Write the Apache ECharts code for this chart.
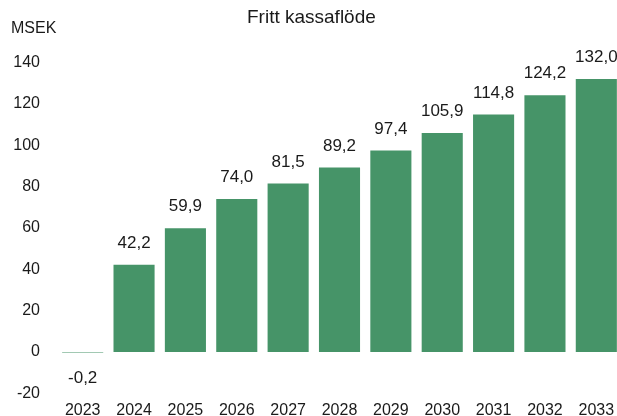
<!DOCTYPE html>
<html>
<head>
<meta charset="utf-8">
<script src="https://cdn.jsdelivr.net/npm/echarts@6/dist/echarts.min.js"></script>
<style>
  html, body { margin: 0; padding: 0; background: #fff; }
  #chart { width: 617px; height: 416px; }
</style>
</head>
<body>
<div id="chart"></div>
<script>
// Fritt kassaflöde, MSEK
var years = ['2023', '2024', '2025', '2026', '2027', '2028', '2029', '2030', '2031', '2032', '2033']
var cashflow = [-0.2, 42.2, 59.9, 74.0, 81.5, 89.2, 97.4, 105.9, 114.8, 124.2, 132.0]
var yTicks = { min: -20, max: 140, step: 20 }

var font = 'Liberation Sans, Arial, sans-serif'
var barColor = '#469468'

function fmt(v) {
  return v.toFixed(1).replace('.', ',')
}

var myChart = echarts.init(document.getElementById('chart'))
var option = {
  backgroundColor: '#fff',
  animation: false,
  title: {
    text: 'Fritt kassaflöde',
    left: 247,
    top: 8,
    padding: 0,
    textStyle: { fontFamily: font, fontSize: 19, fontWeight: 'normal', color: '#1a1a1a' }
  },
  grid: { left: 57, right: -5, top: 62.5, bottom: 22.6, containLabel: false, outerBoundsMode: 'none' },
  xAxis: {
    type: 'category',
    data: years,
    axisLine: { show: false },
    axisTick: { show: false },
    axisLabel: {
      margin: 9,
      fontFamily: font,
      fontSize: 16,
      color: '#1a1a1a',
      verticalAlign: 'top'
    }
  },
  yAxis: {
    type: 'value',
    min: yTicks.min,
    max: yTicks.max,
    interval: yTicks.step,
    name: 'MSEK',
    nameLocation: 'end',
    nameGap: 34,
    nameTextStyle: {
      fontFamily: font,
      fontSize: 16,
      color: '#1a1a1a',
      align: 'left',
      verticalAlign: 'middle',
      padding: [0, 0, 0, -46]
    },
    splitLine: { show: false },
    axisLine: { show: false },
    axisTick: { show: false },
    axisLabel: {
      margin: 17,
      fontFamily: font,
      fontSize: 16,
      color: '#1a1a1a'
    }
  },
  series: [
    {
      type: 'bar',
      barCategoryGap: '20%',
      itemStyle: { color: barColor },
      data: cashflow.map(function (v) {
        return {
          value: v,
          label: v < 0 ? { position: 'bottom', distance: 17 } : undefined
        }
      }),
      label: {
        show: true,
        position: 'top',
        distance: 13,
        fontFamily: font,
        fontSize: 17,
        color: '#1a1a1a',
        formatter: function (p) { return fmt(p.value) }
      }
    }
  ]
}
myChart.setOption(option)
</script>
</body>
</html>
